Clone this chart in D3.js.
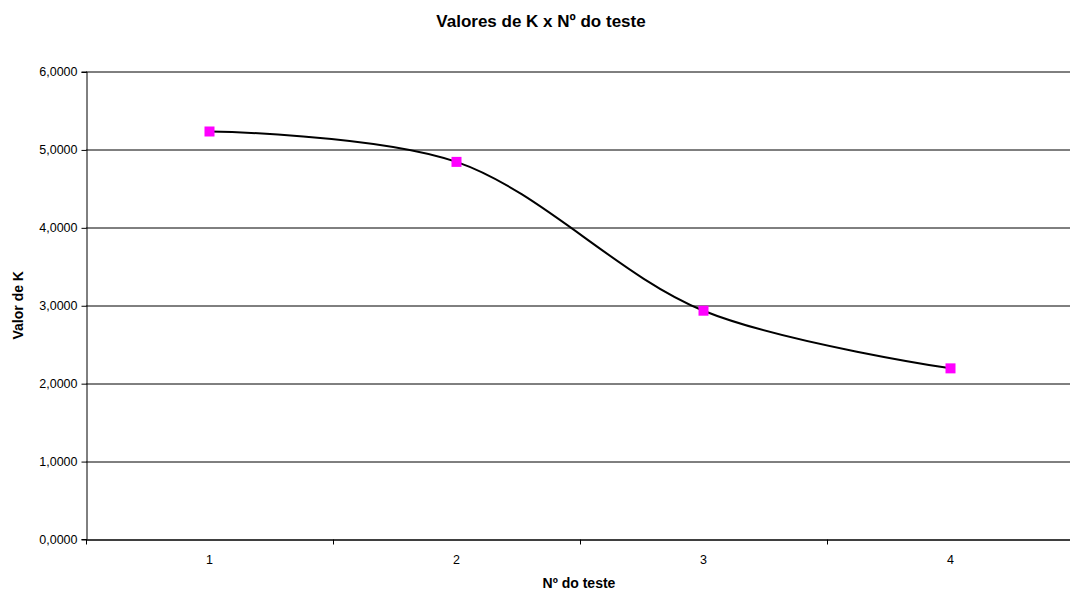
<!DOCTYPE html>
<html>
<head>
<meta charset="utf-8">
<script src="https://cdn.jsdelivr.net/npm/d3@7"></script>
<style>
  body { margin: 0; background: #fff; }
  text { font-family: "Liberation Sans", Arial, sans-serif; fill: #000; }
</style>
</head>
<body>
<svg id="chart" width="1070" height="591"></svg>
<script>
var categories = ["1", "2", "3", "4"];
var kValues = [5.23, 4.84, 2.93, 2.19];
var yTicks = [0, 1, 2, 3, 4, 5, 6];

function drawChart () {
    let chart = d3.select("#chart"),
        margin = { top: 71.5, right: -4, bottom: 52, left: 86 },
        width = +chart.attr("width") - margin.left - margin.right,
        height = +chart.attr("height") - margin.top - margin.bottom;

    let x = d3.scalePoint()
        .domain(categories)
        .range([0, width])
        .padding(0.5);

    let step = x.step();

    let y = d3.scaleLinear()
        .domain([0, 6])
        .range([height, 0]);

    let focus = chart.append("g")
        .attr("transform", "translate(" + margin.left + "," + margin.top + ")");

    // horizontal gridlines
    focus.selectAll(".grid")
        .data(yTicks)
        .enter().append("line")
        .attr("x1", 0)
        .attr("x2", width)
        .attr("y1", d => Math.round(y(d)) + 0.5)
        .attr("y2", d => Math.round(y(d)) + 0.5)
        .style("stroke", "#000")
        .style("stroke-width", 1);

    // y axis
    let yAxis = d3.axisLeft(y)
        .tickValues(yTicks)
        .tickSize(5)
        .tickPadding(4)
        .tickFormat(d => d3.format(".4f")(d).replace(".", ","));

    focus.append("g")
        .attr("transform", "translate(0.5,0)")
        .call(yAxis)
        .call(g => g.selectAll("text").style("font-size", "12.5px"))
        .call(g => g.selectAll("line").attr("transform", "translate(0,0.5)"));

    // x axis with ticks between categories
    focus.append("line")
        .attr("x1", 0).attr("x2", width)
        .attr("y1", Math.round(height) + 0.5).attr("y2", Math.round(height) + 0.5)
        .style("stroke", "#000");

    let boundaries = d3.range(categories.length + 1).map(i => i * step);
    focus.selectAll(".xtick")
        .data(boundaries)
        .enter().append("line")
        .attr("x1", d => Math.round(d) + 0.5)
        .attr("x2", d => Math.round(d) + 0.5)
        .attr("y1", Math.round(height))
        .attr("y2", Math.round(height) + 5)
        .style("stroke", "#000");

    focus.selectAll(".xlabel")
        .data(categories)
        .enter().append("text")
        .attr("x", d => x(d))
        .attr("y", height + 25)
        .attr("text-anchor", "middle")
        .style("font-size", "12.5px")
        .text(d => d);

    // smoothed line
    let line = d3.line()
        .x((d, i) => x(categories[i]))
        .y(d => y(d))
        .curve(d3.curveCatmullRom.alpha(0.5));

    focus.append("path")
        .datum(kValues)
        .attr("d", line)
        .style("fill", "none")
        .style("stroke", "#000")
        .style("stroke-width", "2px");

    focus.selectAll(".marker")
        .data(kValues)
        .enter().append("rect")
        .attr("x", (d, i) => x(categories[i]) - 5)
        .attr("y", d => y(d) - 5)
        .attr("width", 10)
        .attr("height", 10)
        .style("fill", "#ff00ff");

    // titles
    chart.append("text")
        .attr("x", 541)
        .attr("y", 27)
        .attr("text-anchor", "middle")
        .style("font-size", "17px")
        .style("font-weight", "bold")
        .text("Valores de K x Nº do teste");

    chart.append("text")
        .attr("x", 579)
        .attr("y", 588)
        .attr("text-anchor", "middle")
        .style("font-size", "14px")
        .style("font-weight", "bold")
        .text("Nº do teste");

    chart.append("text")
        .attr("transform", "translate(23," + (margin.top + height / 2) + ") rotate(-90)")
        .attr("text-anchor", "middle")
        .style("font-size", "14px")
        .style("font-weight", "bold")
        .text("Valor de K");
}

drawChart();
</script>
</body>
</html>
